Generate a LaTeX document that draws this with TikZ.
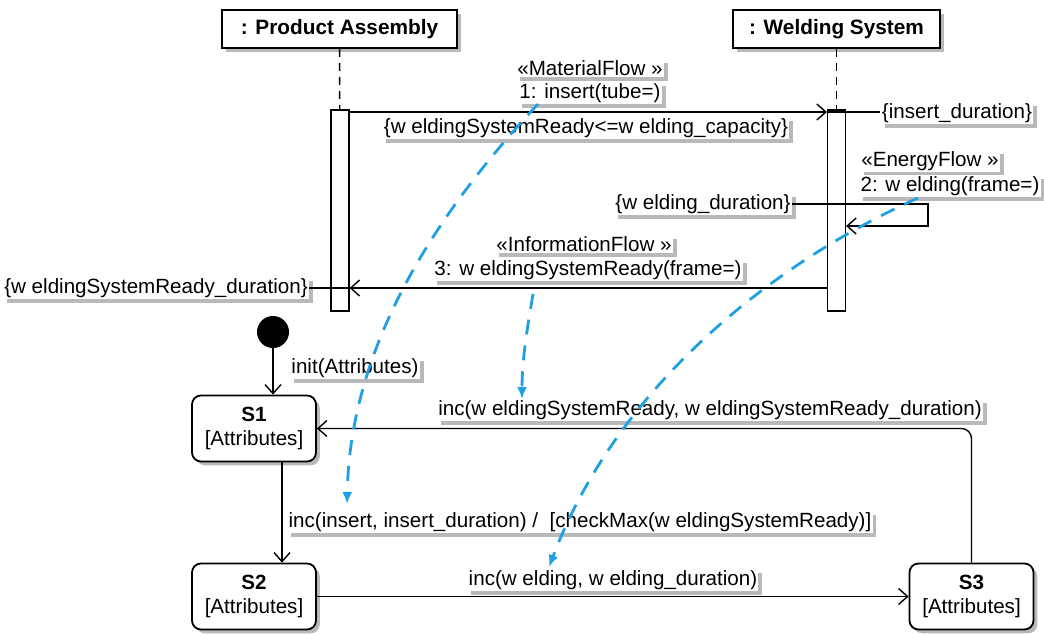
\documentclass[tikz,border=0pt]{standalone}
\usepackage{fontspec}
\setmainfont{Liberation Sans}
\usetikzlibrary{arrows.meta,shadows,positioning}

\definecolor{flowblue}{RGB}{30,160,226}

\tikzset{
  shade/.style={drop shadow={shadow xshift=1.9pt,shadow yshift=-1.9pt,fill=gray!55,opacity=1}},
  lbl/.style={fill=white,inner sep=0.6pt,shade},
  lifebox/.style={draw,line width=0.9pt,fill=white,minimum height=19pt,font=\fontsize{10.4}{12}\selectfont\bfseries,shade},
  actbar/.style={draw,line width=0.6pt,fill=white,minimum width=9pt,minimum height=100.5pt,inner sep=0pt},
  state/.style={draw,line width=0.9pt,fill=white,rounded corners=4.5pt,minimum width=62pt,minimum height=33pt,align=center,inner sep=1pt,shade},
  msg/.style={line width=0.7pt,-{Straight Barb[length=4.5pt,width=8pt]}},
  flow/.style={flowblue,line width=1.4pt,dash pattern=on 7.5pt off 5.5pt,-{Latex[length=6pt,width=5pt]}}
}

\begin{document}
\begin{tikzpicture}[x=0.5pt,y=-0.5pt,font=\fontsize{10.3}{12}\selectfont]
\useasboundingbox (0,0) rectangle (1044,633);

% lifelines
\node[lifebox,minimum width=117.5pt] (pa) at (339.5,29) {: Product Assembly};
\node[lifebox,minimum width=103.5pt] (ws) at (836.5,29) {: Welding System};
\node[actbar] (pabar) at (340,210.5) {};
\node[actbar] (wsbar) at (836.5,210.5) {};
\draw[line width=0.7pt,dash pattern=on 4pt off 3pt] (pa) -- (pabar);
\draw[line width=0.7pt,dash pattern=on 4pt off 3pt] (ws) -- (wsbar);

% message texts
\node[lbl] (mfst) at (590,68) {«MaterialFlow »};
\node[lbl] (mfop) at (590,93) {1: insert(tube=)};
\node[lbl] (cap) at (586,128) {\{w eldingSystemReady<=w elding\_capacity\}};
\node[lbl] (insdur) at (957,113) {\{insert\_duration\}};
\node[lbl] (efst) at (930,161) {«EnergyFlow »};
\node[lbl] (efop) at (950,186) {2: w elding(frame=)};
\node[lbl] (wdur) at (703,204) {\{w elding\_duration\}};
\node[lbl] (ifst) at (584,244) {«InformationFlow »};
\node[lbl] (ifop) at (588,270) {3: w eldingSystemReady(frame=)};
\node[lbl] (wsrdur) at (156,288) {\{w eldingSystemReady\_duration\}};

\coordinate (yone) at (0,112);
\coordinate (ytwo) at (0,226);
\coordinate (self) at (928,0);

% messages
\draw[msg] (pabar.east |- yone) -- (wsbar.west |- yone);
\draw[line width=0.7pt] (wsbar.west |- yone) -- (insdur.west |- yone);
\draw[msg] (wdur.east) -- (self |- wdur) -- (self |- ytwo) -- (wsbar.east |- ytwo);
\draw[msg] (wsbar.west |- wsrdur) -- (pabar.east |- wsrdur);
\draw[line width=0.7pt] (wsrdur.east) -- (pabar.east |- wsrdur);

% state machine
\node[circle,fill=black,minimum size=16pt,inner sep=0pt] (start) at (273,332) {};
\node[state] (sone) at (254,428.5) {\textbf{S1}\\{[Attributes]}};
\node[state] (stwo) at (254,596.5) {\textbf{S2}\\{[Attributes]}};
\node[state] (sthree) at (971.5,596.5) {\textbf{S3}\\{[Attributes]}};

\node[lbl] (initl) at (355,368) {init(Attributes)};
\node[lbl] (incr) at (710,410) {inc(w eldingSystemReady, w eldingSystemReady\_duration)};
\node[lbl] (inci) at (580,522) {inc(insert, insert\_duration) /\ \ [checkMax(w eldingSystemReady)]};
\node[lbl] (incw) at (613,580) {inc(w elding, w elding\_duration)};

\coordinate (down) at (282,0);
\draw[msg] (start) -- (start |- sone.north);
\draw[msg] (down |- sone.south) -- (down |- stwo.north);
\draw[msg] (stwo.east) -- (sthree.west);
\draw[msg,rounded corners=5pt] (sthree.north) -- (sthree.north |- sone.east) -- (sone.east);

% flows
\coordinate (fonea) at (538,104);
\coordinate (foneb) at (347,504);
\coordinate (ftwoa) at (533,294);
\coordinate (ftwob) at (522,399);
\coordinate (fthreea) at (918,198);
\coordinate (fthreeb) at (549,567);
\draw[flow] (fonea) .. controls (430,220) and (350,350) .. (foneb);
\draw[flow] (ftwoa) .. controls (527,330) and (522,360) .. (ftwob);
\draw[flow] (fthreea) .. controls (780,260) and (620,380) .. (fthreeb);

\end{tikzpicture}
\end{document}
